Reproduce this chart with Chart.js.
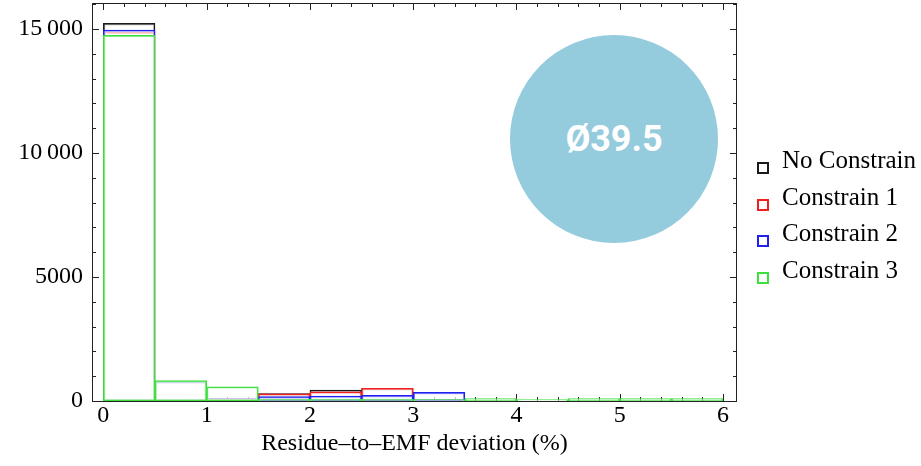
<!DOCTYPE html>
<html>
<head>
<meta charset="utf-8">
<script src="https://cdn.jsdelivr.net/npm/chart.js@4.4.1/dist/chart.umd.min.js"></script>
<style>
  html, body { margin: 0; padding: 0; background: #fff; }
  #wrap { position: relative; width: 921px; height: 466px; }
  #badge {
    position: absolute; left: 510px; top: 35px; width: 208px; height: 208px;
    border-radius: 50%; background: #94cbdd; color: #fff;
    font: 700 36px Roboto, sans-serif; display: flex; align-items: center; justify-content: center;
  }
  #legend { position: absolute; left: 757px; top: 0; }
  .row {
    position: absolute; left: 0; height: 37px; line-height: 37px; padding-left: 25px;
    font: 25px "Liberation Serif", "Times New Roman", serif; color: #000; white-space: nowrap;
  }
  .box {
    position: absolute; left: 0; top: 16px; width: 12px; height: 12px;
    box-sizing: border-box; border: 2px solid #000; background: #fff;
  }
</style>
</head>
<body>
<div id="wrap">
  <canvas id="hist" width="921" height="466"></canvas>
  <div id="badge">Ø39.5</div>
  <div id="legend"></div>
</div>
<script>
// bin centres (bin width 0.5 %)
const binCenters = [0.25, 0.75, 1.25, 1.75, 2.25, 2.75, 3.25, 3.75, 4.25, 4.75, 5.25, 5.75];
const seriesNames = ['No Constrain', 'Constrain 1', 'Constrain 2', 'Constrain 3'];
const seriesColors = ['#1a1a1a', '#f02020', '#2020f0', '#3ee03e'];

const noConstrain = [15230, 270, 95, 300, 445, 500, null, null, null, null, null, null];
const constrain1 = [14870, 770, 95, 285, 365, 515, null, null, null, null, null, null];
const constrain2 = [14960, 770, 95, 175, 200, 230, 350, null, null, null, null, null];
const constrain3 = [14750, 820, 575, 75, 75, 75, 55, 95, 55, 95, 95, 95];

const xTickValues = [0, 1, 2, 3, 4, 5, 6];
const xTickLabels = ['0', '1', '2', '3', '4', '5', '6'];
const yTickValues = [0, 5000, 10000, 15000];
const yTickLabels = ['0', '5000', '10\u2009000', '15\u2009000'];

const allSeries = [noConstrain, constrain1, constrain2, constrain3];
const serif = '"Liberation Serif", "Times New Roman", serif';

// legend on the right
const legendEl = document.getElementById('legend');
seriesNames.forEach((name, i) => {
    const row = document.createElement('div');
    row.className = 'row';
    row.style.top = Math.round(146 + i * 36.7) + 'px';
    row.innerHTML = `<span class="box" style="border-color:${seriesColors[i]}"></span>${name}`;
    legendEl.appendChild(row);
});

// frame with inward ticks on all four sides
const frameTicks = {
    id: 'frameTicks',
    beforeDatasetsDraw(chart) {
        const ctx = chart.ctx;
        const a = chart.chartArea;
        const x = chart.scales.x;
        const y = chart.scales.y;
        ctx.save();
        ctx.strokeStyle = '#222';
        ctx.lineWidth = 1;
        ctx.strokeRect(Math.round(a.left) + 0.5, Math.round(a.top) + 0.5,
            Math.round(a.width) - 1, Math.round(a.height));
        ctx.beginPath();
        for (let i = 0; i <= 30; i++) {
            const px = Math.round(x.getPixelForValue(i * 0.2)) + 0.5;
            const len = i % 5 === 0 ? 7 : 4;
            ctx.moveTo(px, a.bottom); ctx.lineTo(px, a.bottom - len);
            ctx.moveTo(px, a.top); ctx.lineTo(px, a.top + len);
        }
        for (let v = 0; v <= 16000; v += 1000) {
            const py = Math.round(y.getPixelForValue(v)) + 0.5;
            const len = v % 5000 === 0 ? 7 : 4;
            ctx.moveTo(a.left, py); ctx.lineTo(a.left + len, py);
            ctx.moveTo(a.right, py); ctx.lineTo(a.right - len, py);
        }
        ctx.stroke();
        ctx.restore();
    }
};

const datasets = allSeries.map((vals, i) => ({
    label: seriesNames[i],
    data: binCenters.map((c, j) => ({ x: c, y: vals[j] })),
    backgroundColor: 'rgba(255,255,255,0.7)',
    borderColor: seriesColors[i],
    borderWidth: 1.5,
    borderSkipped: false,
    barPercentage: 1,
    categoryPercentage: 1,
    grouped: false,
    order: 4 - i
}));

new Chart(document.getElementById('hist'), {
    type: 'bar',
    data: { datasets: datasets },
    options: {
        responsive: false,
        animation: false,
        layout: { padding: { top: 3, right: 184, left: 0, bottom: 0 } },
        plugins: {
            tooltip: { enabled: false },
            legend: { display: false }
        },
        scales: {
            x: {
                type: 'linear',
                min: -0.11,
                max: 6.135,
                offset: false,
                grid: { display: false, drawTicks: false },
                border: { display: false },
                afterBuildTicks: s => { s.ticks = xTickValues.map(v => ({ value: v })); },
                ticks: {
                    autoSkip: false,
                    maxRotation: 0,
                    padding: 0,
                    color: '#000',
                    font: { family: serif, size: 24 },
                    callback: (v, i) => xTickLabels[i]
                },
                title: {
                    display: true,
                    text: 'Residue–to–EMF deviation (%)',
                    color: '#000',
                    font: { family: serif, size: 24 },
                    padding: { top: 0, bottom: 8 }
                },
                afterFit: s => { s.height = 65; s.paddingLeft = 0; s.paddingRight = 0; }
            },
            y: {
                min: 0,
                max: 16050,
                grid: { display: false, drawTicks: false },
                border: { display: false },
                afterBuildTicks: s => { s.ticks = yTickValues.map(v => ({ value: v })); },
                ticks: {
                    autoSkip: false,
                    padding: 9,
                    color: '#000',
                    font: { family: serif, size: 24 },
                    callback: (v, i) => yTickLabels[i]
                },
                afterFit: s => { s.width = 92; s.paddingTop = 0; s.paddingBottom = 0; }
            }
        }
    },
    plugins: [frameTicks]
});
</script>
</body>
</html>
